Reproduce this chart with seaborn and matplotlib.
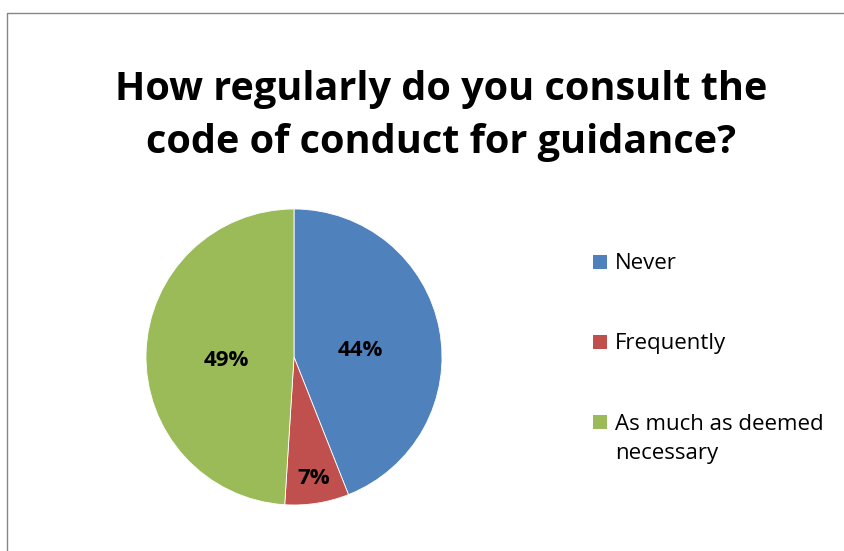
import numpy as np
import matplotlib
matplotlib.use("Agg")
import matplotlib.pyplot as plt
from matplotlib.lines import Line2D
from matplotlib.patches import Rectangle
import seaborn as sns

# Survey responses
categories = ["Never", "Frequently", "As much as deemed necessary"]
shares = [44, 7, 49]
colors = ["#4F81BD", "#C0504D", "#9BBB59"]
legend_labels = ["Never", "Frequently", "As much as deemed\nnecessary"]
title_lines = ["How regularly do you consult the", "code of conduct for guidance?"]

sns.set_theme(style="white")
plt.rcParams["font.family"] = ["Open Sans", "DejaVu Sans"]

W, H = 845, 551
fig = plt.figure(figsize=(W / 100, H / 100), dpi=100)
fig.patch.set_facecolor("white")

def fx(px):
    return px / W

def fy(py):
    return 1 - py / H

# Chart frame: top and left edges (the rest runs off the canvas)
frame_kw = dict(transform=fig.transFigure, color="#868686", linewidth=1.0)
fig.lines.append(Line2D([fx(7.5), fx(7.5), 1.05], [-0.05, fy(12.8), fy(12.8)], **frame_kw))

# Title
for line, base in zip(title_lines, [100, 153]):
    fig.text(fx(441), fy(base), line, ha="center", va="baseline",
             fontsize=28.5, fontweight="bold", color="black")

# Pie
cx, cy, r = 294, 357, 148
ax = fig.add_axes([fx(cx - r), fy(cy + r), 2 * r / W, 2 * r / H])
palette = sns.color_palette(colors)
wedges, _ = ax.pie(shares, colors=palette, startangle=90, counterclock=False,
                   radius=1, wedgeprops=dict(edgecolor="white", linewidth=0.6))
ax.set_xlim(-1, 1)
ax.set_ylim(-1, 1)
ax.set_aspect("equal")
ax.axis("off")

# Percentage labels inside wedges
label_radius = [0.45, 0.83, 0.46]
angle_shift = [-5.0, 0.0, 5.0]
for w, v, rr, da in zip(wedges, shares, label_radius, angle_shift):
    mid = np.deg2rad((w.theta1 + w.theta2) / 2 + da)
    ax.text(rr * np.cos(mid), rr * np.sin(mid), f"{v}%", ha="center", va="center",
            fontsize=16, fontweight="bold", color="black")

# Legend: colour square beside each label, first text line centred on the square
sq = 14
entry_mid = [262, 342, 422]
line_gap = 29
for lab, col, ym in zip(legend_labels, palette, entry_mid):
    fig.patches.append(Rectangle((fx(593.5), fy(ym + sq / 2)), sq / W, sq / H,
                                 transform=fig.transFigure, facecolor=col,
                                 edgecolor="none"))
    for i, part in enumerate(lab.split("\n")):
        fig.text(fx(615), fy(ym + 7.5 + i * line_gap), part, ha="left",
                 va="baseline", fontsize=16, color="black")

fig.savefig("out.png", dpi=100)
